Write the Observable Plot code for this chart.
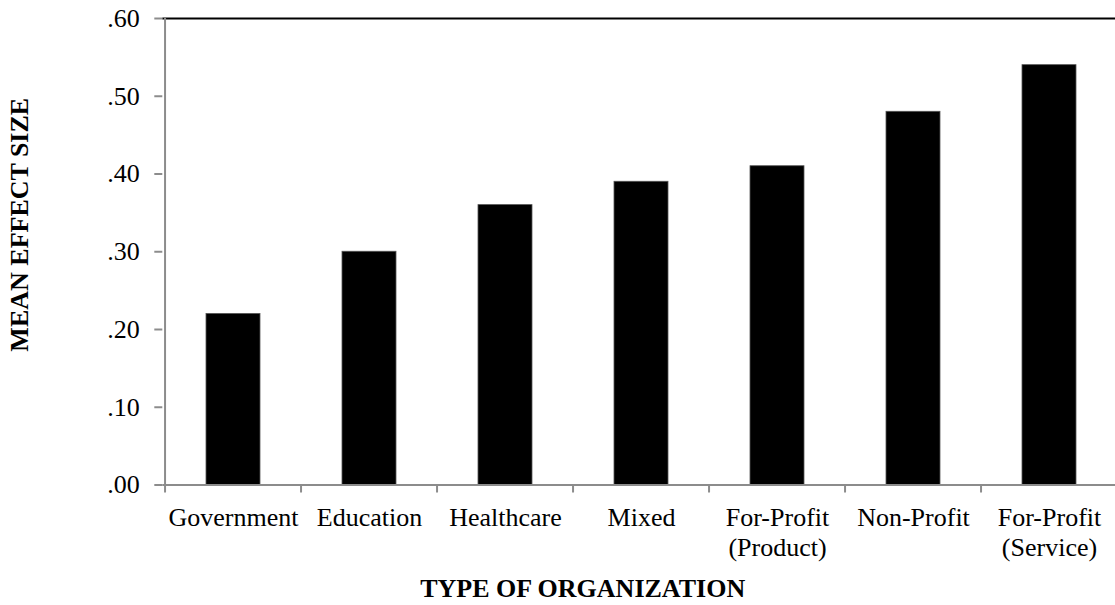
<!DOCTYPE html>
<html>
<head>
<meta charset="utf-8">
<script src="https://cdn.jsdelivr.net/npm/d3@7"></script>
<script src="https://cdn.jsdelivr.net/npm/@observablehq/plot@0.6"></script>
<style>
  html, body { margin: 0; padding: 0; background: #fff; }
</style>
</head>
<body>
<div id="chart"></div>
<script>
const categories = ["Government", "Education", "Healthcare", "Mixed", "For-Profit\n(Product)", "Non-Profit", "For-Profit\n(Service)"];
const values = [0.22, 0.30, 0.36, 0.39, 0.41, 0.48, 0.54];
const yTicks = [0, 0.1, 0.2, 0.3, 0.4, 0.5, 0.6];
const yTitle = "MEAN EFFECT SIZE";
const xTitle = "TYPE OF ORGANIZATION";

const data = categories.map((c, i) => ({category: c, value: values[i]}));

const x0 = 162.3, x1 = 1120.6;
const step = (x1 - x0) / categories.length;
const fmt = d => d3.format(".2f")(d).replace(/^0/, "");
const axisGray = "#8c8c8c";

const chart = Plot.plot({
  width: 1115,
  height: 605,
  marginTop: 18,
  marginBottom: 120.5,
  marginLeft: x0,
  marginRight: 0,
  style: {fontFamily: "'Liberation Serif', 'Times New Roman', serif", fontSize: "26px", color: "black", background: "white", overflow: "hidden"},
  x: {domain: categories, range: [x0, x1], paddingInner: 0.6, paddingOuter: 0.3, axis: null},
  y: {domain: [0, 0.6], axis: null},
  marks: [
    Plot.barY(data, {x: "category", y: "value", fill: "black", stroke: "#555", strokeWidth: 0.8}),
    Plot.ruleY([0.6], {stroke: "black", strokeWidth: 2}),
    Plot.ruleY([0], {stroke: axisGray, strokeWidth: 2}),
    Plot.ruleX([categories[0]], {x: d => d, dx: -step / 2, stroke: axisGray, strokeWidth: 2}),
    Plot.axisY({ticks: yTicks, tickSize: 8, tickPadding: 15, tickFormat: fmt, stroke: axisGray, strokeWidth: 2, label: null, fontSize: 26}),
    Plot.axisX({tickSize: 8, dx: -step / 2, tickFormat: () => "", stroke: axisGray, strokeWidth: 2, label: null}),
    Plot.axisX({tickSize: 0, tickPadding: 20, lineHeight: 1.15, label: null, fontSize: 26}),
    Plot.text([yTitle], {text: d => d, frameAnchor: "left", textAnchor: "middle", lineAnchor: "middle", rotate: -90, dx: -143, dy: -27, fontWeight: "bold", fontSize: 26}),
    Plot.text([xTitle], {text: d => d, frameAnchor: "bottom", textAnchor: "middle", lineAnchor: "middle", dx: -56.5, dy: 104, fontWeight: "bold", fontSize: 26})
  ]
});
document.getElementById("chart").appendChild(chart);
</script>
</body>
</html>
